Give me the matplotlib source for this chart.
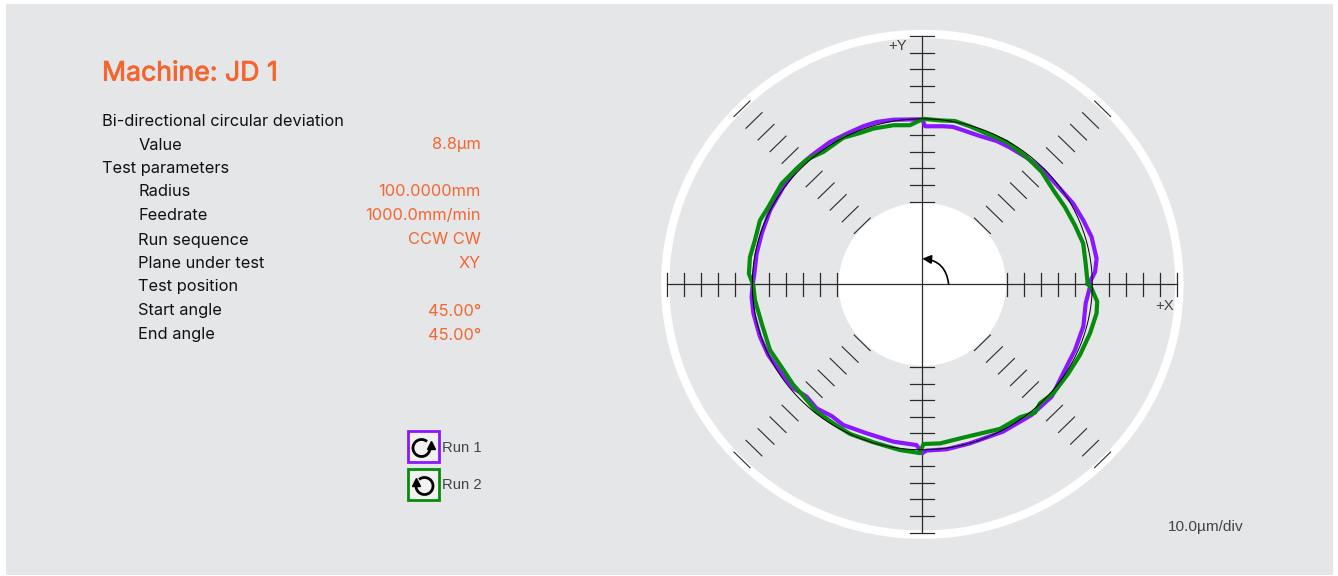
"""Circular deviation (ballbar style) test plot for machine JD 1."""
import numpy as np
import matplotlib
matplotlib.use("Agg")
import matplotlib.pyplot as plt
import matplotlib.patheffects as pe
from matplotlib.patches import Arc, Ellipse, Rectangle

# Values
machine = "Machine: JD 1"
row_labels = ["Bi-directional circular deviation", "Value", "Test parameters", "Radius", "Feedrate",
              "Run sequence", "Plane under test", "Test position", "Start angle", "End angle"]
row_values = ["", "8.8µm", "", "100.0000mm", "1000.0mm/min", "CCW CW", "XY", "", "45.00°", "45.00°"]
row_indented = [False, True, False, True, True, True, True, True, True, True]
run_names = ["Run 1", "Run 2"]

# angle in degrees, deviation from the reference circle in µm
run1_angle = [0.8, 4.2, 8.6, 16, 22.2, 28.7, 35.5, 44, 51.3, 58, 63.2, 69.3, 75.5, 79.2, 82.6, 89,
              90, 99.7, 105.3, 110, 116, 122.3, 129.9, 136.6, 144.3, 153.5, 162, 169.3, 176.3, 180.3,
              184.3, 190, 198.3, 205.2, 212.2, 219.6, 224.9, 230.3, 236.2, 241.3, 250, 259.8, 268, 270,
              271.4, 278.2, 286.2, 298.1, 309.1, 318.3, 327, 336.1, 344.9, 353.2, 359]
run1_dev = [-1.4, 1.9, 3.7, 3.6, 2.3, 1.3, -0.5, -0.9, -1.9, -2.6, -3.0, -4.2, -3.9, -3.2, -3.7, -4.5,
            -0.3, 0.9, 1.7, 1.6, 1.3, 1.7, 1.5, 1.7, 0.7, 0.1, -0.7, -0.8, -1.0, -0.2,
            0.7, 0.9, 0.6, 0.2, -1.0, -1.5, -3.9, -2.6, -4.2, -3.1, -4.2, -3.4, -2.8, 2.0,
            0.5, 0.7, 0.1, 0.9, 1.8, 2.0, -1.2, -1.8, -1.9, -3.2, -1.4]
run2_angle = [0.2, 7.4, 14.6, 21.6, 29.1, 36.4, 44, 51.4, 60, 67.4, 73.7, 79, 84, 89.7,
              94.3, 100, 107, 111.9, 117.7, 126, 132, 137.4, 143.7, 152.7, 158, 164.9, 170.8, 176.4, 180.3,
              185.5, 194, 203.9, 210.2, 218.7, 224, 231, 238, 244.8, 253.2, 262.5, 269.2,
              270.4, 276.2, 284.6, 297.6, 305.6, 310.5, 313.9, 319.5, 327.9, 335.3, 343.3, 350.3, 354.2, 358.6]
run2_dev = [-2.7, -3.1, -2.2, -3.4, -4.0, -4.2, -2.3, -1.6, -0.7, -1.4, -0.5, 0.5, -0.4, 0.0,
            -3.6, -2.4, -1.6, -1.5, 0.0, -1.1, 1.5, 1.8, 2.7, 1.9, 3.0, 2.0, 2.7, 2.2, -0.6,
            -1.1, -2.6, -2.0, -3.2, -2.8, -2.8, -1.1, -1.0, -0.1, -0.3, 1.0, 2.0,
            -3.5, -3.3, -4.3, -1.4, -1.2, 2.0, -0.2, 1.4, 1.4, 2.1, 3.0, 4.0, 3.4, -0.4]

um_per_div = 10.0
ref_radius = 10         # reference circle, in divisions
tick_divs = [5, 6, 7, 8, 9, 11, 12, 13, 14, 15]

orange = "#F4652F"
grey_bg = "#E5E6E8"
purple = "#8A17FF"
green = "#058C0C"
ink = "#2A2A2A"
label_grey = "#444444"
W, H = 1338, 576

plt.rcParams["font.family"] = ["Inter", "DejaVu Sans"]
fig = plt.figure(figsize=(W / 100, H / 100), dpi=100, facecolor="white")

# Whole figure axes, counted in pixels, for the panel, the texts and the legend
page = fig.add_axes([0, 0, 1, 1], zorder=0)
page.set_xlim(0, W)
page.set_ylim(H, 0)
page.axis("off")
page.add_patch(Rectangle((6, 4), 1327, 571, fc=grey_bg, ec="none"))

title = page.text(102, 73.5, machine, color=orange, fontsize=19.2, va="center")
title.set_path_effects([pe.withStroke(linewidth=0.6, foreground=orange)])
row_y = [121, 145, 168.5, 192, 216, 240, 263.5, 287, 311, 335]
for y, label, value, indented in zip(row_y, row_labels, row_values, row_indented):
    page.text(138.5 if indented else 101.5, y, label, color="#111111", fontsize=11.8, va="center")
    page.text(481, y, value, color=orange, fontsize=11.8, va="center", ha="right")

# Legend boxes with the direction symbols
sans = ["Liberation Sans", "DejaVu Sans"]
for y0, col, name in zip([431, 468.5], [purple, green], run_names):
    page.add_patch(Rectangle((408, y0), 31, 31, fc="#F1F1F1", ec=col, lw=2))
    page.text(442.5, y0 + 16.5, name, color=label_grey, fontsize=10.7, va="center", family=sans)
page.add_patch(Arc((421.5, 448), 17, 17, theta1=-370, theta2=-50, color="black", lw=2))
page.plot([431], [445], marker="^", ms=5.5, color="black")
page.add_patch(Arc((424.5, 486), 17, 17, theta1=-490, theta2=-170, color="black", lw=2))
page.plot([415.5], [482], marker="^", ms=5.5, color="black")

page.text(898, 46.5, "+Y", color=label_grey, fontsize=10.7, va="center", ha="center", family=sans)
page.text(1165, 306.5, "+X", color=label_grey, fontsize=10.7, va="center", ha="center", family=sans)
page.text(1168, 527.5, "10.0µm/div", color=label_grey, fontsize=11.1, va="center", family=sans)

# Plot axes in divisions, 17 px/div across and 16.55 px/div down as in the picture
cx, cy = 922.3, 284.3
sx, sy = 17.0, 16.55
lim = 16.5
ax = fig.add_axes([(cx - lim * sx) / W, 1 - (cy + lim * sy) / H, 2 * lim * sx / W, 2 * lim * sy / H], zorder=1)
ax.set_xlim(-lim, lim)
ax.set_ylim(-lim, lim)
ax.axis("off")

ax.add_patch(Ellipse((0, 0), 30.25, 30.25, fc="none", ec="white", lw=6.0))
ax.add_patch(Ellipse((0, 0), 9.85, 9.85, fc="white", ec="none"))

# Axis lines and their ticks
ax.plot([-15, 15], [0, 0], color=ink, lw=0.9)
ax.plot([0, 0], [-15, 15], color=ink, lw=0.9)
tick_half = 0.7
for d in tick_divs:
    for s in [-1, 1]:
        ax.plot([s * d, s * d], [-tick_half, tick_half], color=ink, lw=0.9)
        ax.plot([-tick_half, tick_half], [s * d, s * d], color=ink, lw=0.9)

# Diagonal ticks
diag_half = 0.47
for d in tick_divs:
    p = d * np.sqrt(0.5)
    for sgn_x, sgn_y in [(1, 1), (-1, 1), (-1, -1), (1, -1)]:
        ax.plot([sgn_x * (p - diag_half), sgn_x * (p + diag_half)],
                [sgn_y * (p + diag_half), sgn_y * (p - diag_half)], color=ink, lw=0.8)


def trace_xy(angle, dev):
    a = np.radians(np.array(angle + angle[:1]))
    r = ref_radius + np.array(dev + dev[:1]) / um_per_div
    return r * np.cos(a), r * np.sin(a)


x1, y1 = trace_xy(run1_angle, run1_dev)
x2, y2 = trace_xy(run2_angle, run2_dev)
ax.plot(x1, y1, color=purple, lw=3, zorder=3)
ax.plot(x2, y2, color=green, lw=3, zorder=4)

# Reference circle on top
circle_a = np.radians(np.arange(0, 361))
ax.plot(ref_radius * np.cos(circle_a), ref_radius * np.sin(circle_a), color="black", lw=0.7, zorder=5)

# Direction arrow in the centre
ax.annotate("", xy=(0, 1.55), xytext=(1.55, 0),
            arrowprops=dict(arrowstyle="-|>", color="black", lw=1.2, mutation_scale=13,
                            shrinkA=0, shrinkB=0, connectionstyle="arc3,rad=0.41"), zorder=6)

fig.savefig("out.png", dpi=100, facecolor="white")
